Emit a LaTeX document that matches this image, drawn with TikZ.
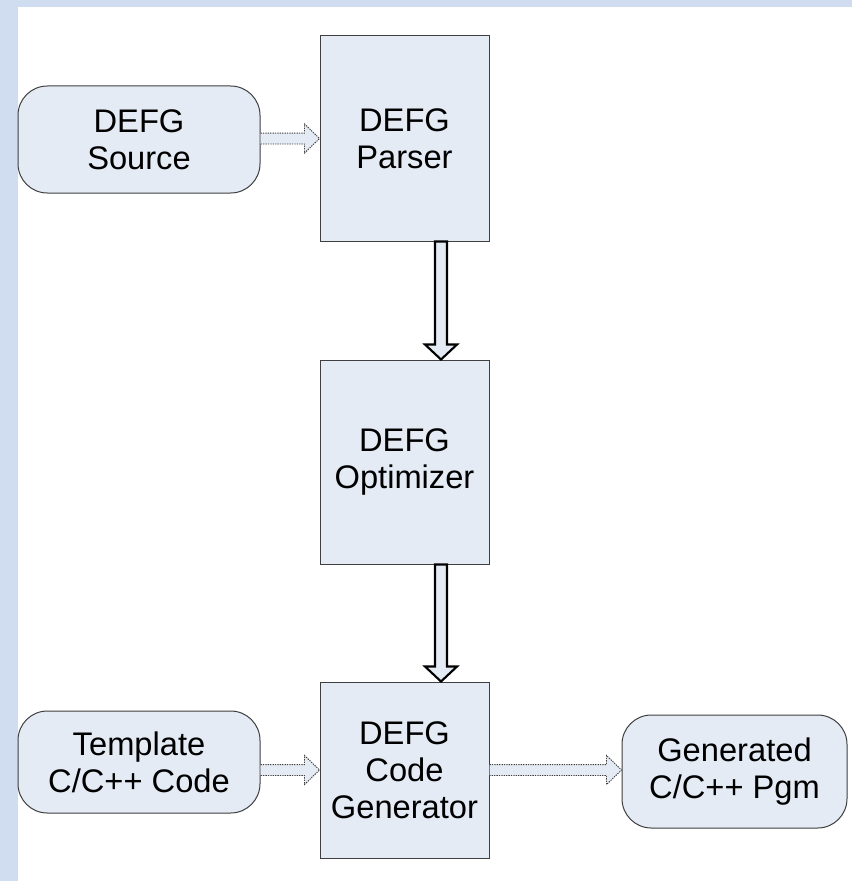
\documentclass[tikz,border=0pt]{standalone}
\usepackage{fontspec}
\setmainfont{Liberation Sans}
\usetikzlibrary{calc}
\definecolor{framebg}{HTML}{D0DCEF}
\definecolor{boxfill}{HTML}{E4EBF5}
\definecolor{boxline}{HTML}{3F3F3F}
\definecolor{dotline}{HTML}{404040}

% horizontal hollow arrow, dotted outline; vertical position taken from the end point
\newcommand\hblock[2]{%
  \draw[hflow] let \p1=(#1), \p2=(#2) in
    (\x1,\y2+4.1pt) -- (\x2-11.25pt,\y2+4.1pt) -- (\x2-11.25pt,\y2+10.9pt) -- (\x2,\y2)
    -- (\x2-11.25pt,\y2-10.9pt) -- (\x2-11.25pt,\y2-4.1pt) -- (\x1,\y2-4.1pt);}
% vertical hollow arrow, solid black outline
\newcommand\vblock[2]{%
  \draw[vflow] let \p1=(#1), \p2=(#2) in
    (\x1-4.5pt,\y1) -- (\x1-4.5pt,\y2+11.25pt) -- (\x1-12pt,\y2+11.25pt) -- (\x1,\y2)
    -- (\x1+12pt,\y2+11.25pt) -- (\x1+4.5pt,\y2+11.25pt) -- (\x1+4.5pt,\y1) -- cycle;}

\begin{document}
\begin{tikzpicture}[x=0.75pt,y=-0.75pt,
  every node/.style={font=\fontsize{24.5pt}{27.75pt}\selectfont, align=center, text=black},
  stage/.style={draw=boxline, fill=boxfill, line width=0.75pt, inner sep=0pt},
  terminal/.style={stage, rounded corners=22pt},
  hflow/.style={draw=dotline, fill=boxfill, line width=0.7pt, dash pattern=on 1pt off 0.8pt},
  vflow/.style={draw=black, fill=boxfill, line width=1.6pt, line join=miter}]
  % page frame: light blue margin on the left and top
  \fill[framebg] (0,0) rectangle (852,881);
  \fill[white] (18,7) rectangle (852,881);
  \useasboundingbox (0,0) rectangle (852,881);

  \node[terminal, minimum width=0.75pt*242, minimum height=0.75pt*107] (src) at (139,139.5) {DEFG\\Source};
  \node[stage, minimum width=0.75pt*169, minimum height=0.75pt*205] (parser) at (404.5,138.5) {DEFG\\Parser};
  \node[stage, minimum width=0.75pt*169, minimum height=0.75pt*204] (opt) at (404.5,462) {DEFG\\Optimizer};
  \node[stage, minimum width=0.75pt*169, minimum height=0.75pt*176] (code) at (404.5,770) {DEFG\\Code\\Generator};
  \node[terminal, minimum width=0.75pt*242, minimum height=0.75pt*102] (tmpl) at (139,762) {Template\\C/C++ Code};
  \node[terminal, minimum width=0.75pt*225, minimum height=0.75pt*113] (gen) at (734.5,771.5) {Generated\\C/C++ Pgm};

  \hblock{src.east}{parser.west}
  \hblock{tmpl.east}{code.west}
  \hblock{code.east}{code.east -| gen.west}
  \vblock{$(parser.south)+(36.5,0)$}{$(opt.north)+(36.5,0)$}
  \vblock{$(opt.south)+(36.5,0)$}{$(code.north)+(36.5,0)$}
\end{tikzpicture}
\end{document}
